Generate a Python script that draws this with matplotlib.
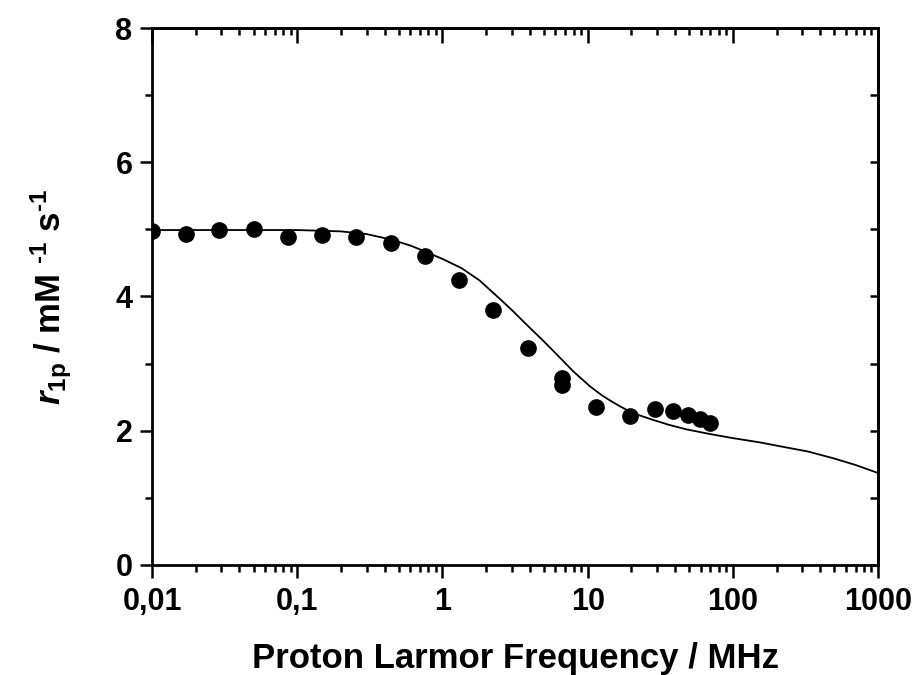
import matplotlib
matplotlib.use("Agg")
import matplotlib.pyplot as plt
from matplotlib.ticker import LogLocator, FixedLocator, NullFormatter

# measured relaxivity (points)
freq_mhz = [0.01, 0.0171, 0.0291, 0.0501, 0.0869, 0.149, 0.255, 0.440, 0.759,
            1.31, 2.24, 3.87, 6.62, 6.62, 11.5, 19.6, 29.3, 38.9, 49.4, 59.4, 69.7]
r1p = [4.98, 4.93, 4.99, 5.00, 4.89, 4.91, 4.89, 4.80, 4.60,
       4.24, 3.80, 3.24, 2.79, 2.68, 2.36, 2.22, 2.32, 2.30, 2.24, 2.17, 2.11]

# fitted curve
fit_freq = [0.01, 0.03, 0.1, 0.2, 0.3, 0.44, 0.6, 0.76, 1.0, 1.36, 1.8, 2.5,
            3.0, 3.8, 5.0, 6.5, 8.0, 10.4, 12.5, 14.3, 16.5, 18.6, 22.0, 28.4,
            36.0, 48.0, 70.0, 100.0, 150.0, 222.0, 330.0, 492.0, 700.0, 1000.0]
fit_r1p = [4.99, 4.99, 4.99, 4.97, 4.93, 4.85, 4.76, 4.67, 4.56, 4.42, 4.24, 3.96,
           3.80, 3.58, 3.33, 3.08, 2.88, 2.66, 2.53, 2.45, 2.37, 2.31, 2.24, 2.16,
           2.09, 2.02, 1.95, 1.89, 1.83, 1.76, 1.69, 1.59, 1.49, 1.37]

plt.rcParams['font.family'] = ['Liberation Sans', 'DejaVu Sans']
plt.rcParams['font.weight'] = 'bold'
plt.rcParams['mathtext.fontset'] = 'custom'
plt.rcParams['mathtext.rm'] = 'Liberation Sans:bold'
plt.rcParams['mathtext.bf'] = 'Liberation Sans:bold'
plt.rcParams['mathtext.it'] = 'Liberation Sans:italic:bold'

fig = plt.figure(figsize=(9.17, 6.75), dpi=100)
ax = fig.add_axes([0.1658, 0.163, 0.7917, 0.7955])

ax.plot(fit_freq, fit_r1p, color='black', lw=1.3, zorder=2)
ax.plot(freq_mhz, r1p, 'o', color='black', markersize=11, zorder=3)

ax.set_xscale('log')
ax.set_xlim(0.01, 1000)
ax.set_ylim(0, 8)

ax.xaxis.set_major_locator(FixedLocator([0.01, 0.1, 1, 10, 100, 1000]))
ax.set_xticklabels(['0,01', '0,1', '1', '10', '100', '1000'])
ax.xaxis.set_minor_locator(LogLocator(base=10, subs=range(2, 10)))
ax.xaxis.set_minor_formatter(NullFormatter())
ax.set_yticks([0, 2, 4, 6, 8])
ax.set_yticks([1, 3, 5, 7], minor=True)

for s in ax.spines.values():
    s.set_linewidth(2)

ax.tick_params(which='both', direction='out', width=1.8, labelsize=22,
               top=False, right=False)
ax.tick_params(which='major', length=9)
ax.tick_params(which='minor', length=5)
ax.tick_params(axis='x', pad=7)
ax.tick_params(axis='y', pad=5)

# inward ticks on the top and right edges
ax_top = ax.secondary_xaxis('top')
ax_top.set_xticks([0.01, 0.1, 1, 10, 100, 1000])
ax_top.xaxis.set_minor_locator(LogLocator(base=10, subs=range(2, 10)))
ax_top.tick_params(which='both', direction='in', width=1.8, labeltop=False)
ax_top.tick_params(which='major', length=11)
ax_top.tick_params(which='minor', length=5)
ax_top.spines['top'].set_linewidth(2)

ax_right = ax.secondary_yaxis('right')
ax_right.set_yticks([0, 2, 4, 6, 8])
ax_right.set_yticks([1, 3, 5, 7], minor=True)
ax_right.tick_params(which='both', direction='in', width=1.8, labelright=False,
                     length=6)
ax_right.spines['right'].set_linewidth(2)

ax.set_xlabel('Proton Larmor Frequency / MHz', fontsize=25, fontweight='bold',
              labelpad=18)
ax.set_ylabel(r'$\mathit{r}_{\mathrm{1p}}$ / mM $^{\text{-1}}$ s$^{\text{-1}}$',
              fontsize=25, fontweight='bold', labelpad=30)

fig.savefig('out.png', dpi=100)
